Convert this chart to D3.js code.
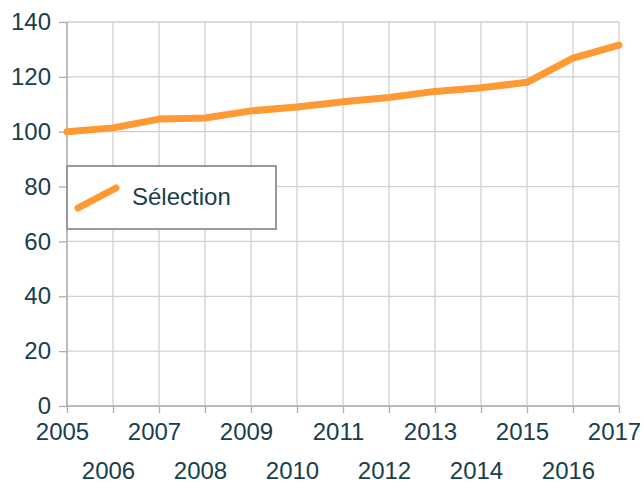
<!DOCTYPE html>
<html>
<head>
<meta charset="utf-8">
<script src="https://cdn.jsdelivr.net/npm/d3@7"></script>
<style>
  body { margin: 0; background: #fff; }
  text { font-family: "Liberation Sans", Arial, sans-serif; fill: #17404c; }
</style>
</head>
<body>
<script>
// data
var years = [2005, 2006, 2007, 2008, 2009, 2010, 2011, 2012, 2013, 2014, 2015, 2016, 2017];
var selection = [100, 101.4, 104.6, 105, 107.6, 109, 110.9, 112.5, 114.7, 116, 118, 126.8, 131.6];
var yTicks = [0, 20, 40, 60, 80, 100, 120, 140];
var seriesName = "Sélection";

var margin = {top: 22, right: 25, bottom: 78, left: 67},
    width = 644 - margin.left - margin.right,
    height = 484 - margin.top - margin.bottom;

var svg = d3.select("body").append("svg")
    .attr("width", 644)
    .attr("height", 484)
  .append("g")
    .attr("transform", "translate(" + margin.left + "," + margin.top + ")");

var x = d3.scaleLinear().domain([2005, 2017]).range([0, width]);
var y = d3.scaleLinear().domain([0, 140]).range([height, 0]);

// grid
svg.append("g").selectAll("line")
  .data(yTicks).enter().append("line")
    .attr("x1", 0).attr("x2", width)
    .attr("y1", function(d) { return y(d); })
    .attr("y2", function(d) { return y(d); })
    .style("stroke", "#d0d0d0").style("stroke-width", 1.3);

svg.append("g").selectAll("line")
  .data(years).enter().append("line")
    .attr("x1", function(d) { return x(d); })
    .attr("x2", function(d) { return x(d); })
    .attr("y1", 0).attr("y2", height)
    .style("stroke", "#d0d0d0").style("stroke-width", 1.3);

// y axis
var yAxis = svg.append("g")
    .call(d3.axisLeft(y).tickValues(yTicks).tickSize(8).tickPadding(8));
yAxis.selectAll("text").style("font-size", "24px");
yAxis.selectAll("line").style("stroke", "#b0b0b0").style("stroke-width", 1.3);
yAxis.select(".domain").attr("d", "M0,0V" + height).style("stroke", "#b0b0b0").style("stroke-width", 1.5);

// x axis, labels on two rows
var xAxis = svg.append("g")
    .attr("transform", "translate(0," + height + ")")
    .call(d3.axisBottom(x).tickValues(years).tickFormat(d3.format("d")).tickSize(7).tickPadding(10));
xAxis.selectAll("text")
    .style("font-size", "24px")
    .attr("dx", -5)
    .attr("dy", function(d, i) { return i % 2 ? "2.32em" : "0.71em"; });
xAxis.selectAll("line").style("stroke", "#b0b0b0").style("stroke-width", 1.3);
xAxis.select(".domain").attr("d", "M0,0H" + width).style("stroke", "#b0b0b0").style("stroke-width", 1.5);

// line
var line = d3.line()
    .x(function(d, i) { return x(years[i]); })
    .y(function(d) { return y(d); });

svg.append("path")
    .datum(selection)
    .attr("d", line)
    .style("fill", "none")
    .style("stroke", "#ff9933")
    .style("stroke-width", 7)
    .style("stroke-linecap", "round")
    .style("stroke-linejoin", "round");

// legend
var legend = svg.append("g").attr("transform", "translate(0," + (166 - margin.top) + ")");
legend.append("rect")
    .attr("width", 209).attr("height", 63)
    .style("fill", "#fff").style("stroke", "#999").style("stroke-width", 2);
legend.append("line")
    .attr("x1", 11).attr("y1", 42).attr("x2", 49).attr("y2", 22)
    .style("stroke", "#ff9933").style("stroke-width", 7).style("stroke-linecap", "round");
legend.append("text")
    .attr("x", 65).attr("y", 39)
    .style("font-size", "24px")
    .text(seriesName);
</script>
</body>
</html>
